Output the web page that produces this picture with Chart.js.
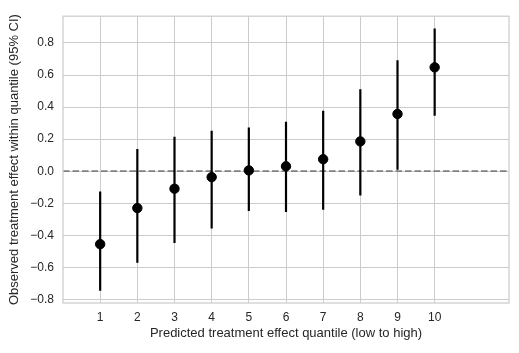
<!DOCTYPE html>
<html>
<head>
<meta charset="utf-8">
<script src="https://cdn.jsdelivr.net/npm/chart.js@4/dist/chart.umd.min.js"></script>
<style>
    html, body { margin: 0; padding: 0; background: #fff; }
    #wrap { width: 519px; height: 353px; }
</style>
</head>
<body>
<div id="wrap"><canvas id="chart"></canvas></div>
<script>
// quantiles 1..10
const quantiles = [1, 2, 3, 4, 5, 6, 7, 8, 9, 10];
const effects = [-0.455, -0.23, -0.109, -0.037, 0.005, 0.031, 0.075, 0.186, 0.357, 0.648];
const ciLow = [-0.745, -0.571, -0.447, -0.358, -0.248, -0.255, -0.24, -0.151, 0.009, 0.346];
const ciHigh = [-0.126, 0.139, 0.215, 0.253, 0.273, 0.309, 0.377, 0.512, 0.692, 0.891];
const yTicks = [-0.8, -0.6, -0.4, -0.2, 0.0, 0.2, 0.4, 0.6, 0.8];

const gridColor = '#cccccc';
const textColor = '#262626';
const tickFont = { family: 'Arial, "Liberation Sans", sans-serif', size: 12 };
const titleFont = { family: 'Arial, "Liberation Sans", sans-serif', size: 13 };

// error bars as one broken line: low -> high, then a gap
const errorData = [];
quantiles.forEach((q, i) => {
    errorData.push({ x: q, y: ciLow[i] });
    errorData.push({ x: q, y: ciHigh[i] });
    errorData.push({ x: q, y: null });
});

// spines on all four sides
const frame = {
    id: 'frame',
    afterDraw(chart) {
        const { ctx, chartArea: a } = chart;
        ctx.save();
        ctx.strokeStyle = gridColor;
        ctx.lineWidth = 1.25;
        ctx.strokeRect(a.left, a.top, a.right - a.left, a.bottom - a.top);
        ctx.restore();
    }
};

new Chart(document.getElementById('chart'), {
    type: 'scatter',
    data: {
        datasets: [
            {
                label: 'estimate',
                data: quantiles.map((q, i) => ({ x: q, y: effects[i] })),
                backgroundColor: '#000',
                borderColor: '#000',
                pointRadius: 4.7,
                pointHoverRadius: 4.7,
                order: 0
            },
            {
                type: 'line',
                label: 'ci',
                data: errorData,
                borderColor: '#000',
                borderWidth: 2.2,
                pointRadius: 0,
                spanGaps: false,
                order: 1
            },
            {
                type: 'line',
                label: 'zero',
                data: [{ x: 0, y: 0 }, { x: 12, y: 0 }],
                borderColor: '#808080',
                borderWidth: 1.8,
                borderDash: [6.6, 2.9],
                pointRadius: 0,
                order: 2
            }
        ]
    },
    options: {
        responsive: true,
        maintainAspectRatio: false,
        animation: false,
        events: [],
        layout: { padding: { top: 14, right: 10, left: 0, bottom: 0 } },
        plugins: {
            legend: { display: false },
            tooltip: { enabled: false }
        },
        scales: {
            x: {
                type: 'linear',
                min: 0,
                max: 12,
                afterBuildTicks: (s) => { s.ticks = quantiles.map(v => ({ value: v })); },
                afterFit: (s) => { s.height = 50; },
                grid: { color: gridColor, lineWidth: 1, drawTicks: false },
                border: { display: false },
                ticks: { color: textColor, font: tickFont, padding: 7, callback: (v) => String(v) },
                title: {
                    display: true,
                    text: 'Predicted treatment effect quantile (low to high)',
                    color: textColor,
                    font: titleFont,
                    padding: { top: 0, bottom: 12 }
                }
            },
            y: {
                min: -0.822,
                max: 0.967,
                afterBuildTicks: (s) => { s.ticks = yTicks.map(v => ({ value: v })); },
                afterFit: (s) => { s.width = 63; },
                grid: { color: gridColor, lineWidth: 1, drawTicks: false },
                border: { display: false },
                ticks: {
                    color: textColor,
                    font: tickFont,
                    padding: 9,
                    callback: (v) => v.toFixed(1).replace('-', '\u2212')
                },
                title: {
                    display: true,
                    text: 'Observed treatment effect within quantile (95% CI)',
                    color: textColor,
                    font: titleFont,
                    padding: { top: 7, bottom: 0 }
                }
            }
        }
    },
    plugins: [frame]
});
</script>
</body>
</html>
